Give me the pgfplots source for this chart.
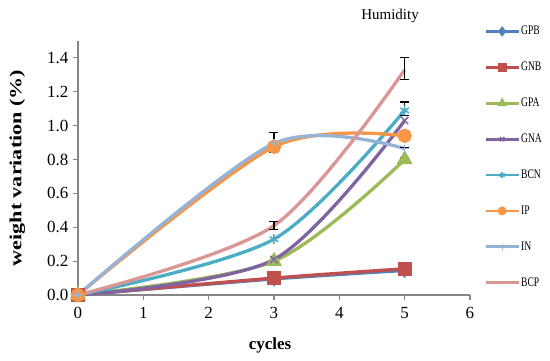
\documentclass[border=0pt]{standalone}
\usepackage{pgfplots}
\pgfplotsset{compat=1.18}
\usepackage{fontspec}
\setmainfont{Liberation Serif}
\usepackage{graphicx}
\definecolor{cGPB}{HTML}{4F81BD}
\definecolor{cGNB}{HTML}{C0504D}
\definecolor{cGPA}{HTML}{9BBB59}
\definecolor{cGNA}{HTML}{8064A2}
\definecolor{cBCN}{HTML}{4BACC6}
\definecolor{cIP}{HTML}{F79646}
\definecolor{cIN}{HTML}{95B3D7}
\definecolor{cBCP}{HTML}{D99694}
\definecolor{axgray}{HTML}{868686}
\newcommand{\legtxt}[1]{\scalebox{0.74}[1]{#1}}
\begin{document}
\begin{tikzpicture}
\begin{axis}[
  at={(0pt,0pt)}, anchor=origin,
  scale only axis, width=392pt, height=254pt,
  xmin=0, xmax=6, ymin=0, ymax=1.5,
  clip=false,
  axis lines=left,
  axis line style={draw=axgray, line width=1.1pt, -},
  xtick={0,1,2,3,4,5,6},
  ytick={0,0.2,0.4,0.6,0.8,1.0,1.2,1.4},
  tick align=outside, major tick length=5pt,
  tick style={draw=axgray, line width=1.1pt},
  /pgf/number format/assume math mode=true,
  ticklabel style={font=\fontsize{17}{19}\selectfont},
  xticklabel style={yshift=-4pt},
  yticklabel style={xshift=-1pt, /pgf/number format/.cd, fixed, fixed zerofill, precision=1},
  xlabel={\textbf{cycles}},
  xlabel style={font=\fontsize{17}{19}\selectfont, at={(axis description cs:0.49,-0.2)}, anchor=center},
  ylabel={\scalebox{1.3}[1]{\textbf{weight variation (\%)}}},
  ylabel style={font=\fontsize{17}{19}\selectfont, at={(axis description cs:-0.155,0.5)}, anchor=center},
  every axis plot/.append style={line width=3.3pt, smooth},
  legend image code/.code={\draw[mark repeat=2, mark phase=2, mark size=3pt, line width=2.8pt] plot coordinates {(0pt,0pt) (16.5pt,0pt) (33pt,0pt)};},
  legend cell align=left,
  legend style={at={(axis description cs:1.036,1.064)}, anchor=north west, draw=none, fill=none,
    font=\fontsize{13}{15}\selectfont, inner xsep=0pt, inner ysep=0pt, row sep=22.9pt,
    nodes={inner sep=1pt, text height=9pt, text depth=2pt}},
]
\addplot[color=cGPB, mark=diamond*, mark size=5pt, mark options={solid, fill=cGPB}] coordinates {(0,0) (3,0.095) (5,0.145)};
\addlegendentry{\legtxt{GPB}}
\addplot[color=cGNB, mark=square*, mark size=5.5pt, mark options={solid, fill=cGNB}] coordinates {(0,0) (3,0.10) (5,0.155)};
\addlegendentry{\legtxt{GNB}}
\addplot[color=cGPA, mark=triangle*, mark size=6pt, mark options={solid, fill=cGPA}] coordinates {(0,0) (3,0.20) (5,0.80)};
\addlegendentry{\legtxt{GPA}}
\addplot[color=cGNA, mark=x, mark size=5pt, mark options={solid, line width=1.5pt}] coordinates {(0,0) (3,0.21) (5,1.03)};
\addlegendentry{\legtxt{GNA}}
\addplot[color=cBCN, mark=asterisk, mark size=5pt, mark options={solid, line width=1.5pt}] coordinates {(0,0) (3,0.33) (5,1.09)};
\addlegendentry{\legtxt{BCN}}
\addplot[color=cIP, mark=*, mark size=5.5pt, mark options={solid, fill=cIP}] coordinates {(0,0) (3,0.875) (5,0.94)};
\addlegendentry{\legtxt{IP}}
\addplot[color=cIN, mark=+, mark size=4pt, mark options={solid, line width=1.2pt}] coordinates {(0,0) (3,0.895) (5,0.865)};
\addlegendentry{\legtxt{IN}}
\addplot[color=cBCP, mark=none] coordinates {(0,0) (3,0.41) (5,1.33)};
\addlegendentry{\legtxt{BCP}}
% error bars
\addplot[draw=none, mark=none, forget plot, smooth=false,
  error bars/.cd, y dir=both, y explicit,
  error bar style={black, line width=1.1pt},
  error mark options={black, rotate=90, mark size=4.5pt, line width=1.1pt}]
  coordinates {(3,0.90) +- (0,0.06) (3,0.41) +- (0,0.022) (5,1.335) +- (0,0.065) (5,1.10) +- (0,0.04) (5,0.84) +- (0,0.03)};
\node[font=\fontsize{15}{17}\selectfont] at (axis description cs:0.796,1.10) {Humidity};
\end{axis}
\pgfresetboundingbox
\path (-78pt,-66pt) rectangle (472pt,295pt);
\end{tikzpicture}
\end{document}
